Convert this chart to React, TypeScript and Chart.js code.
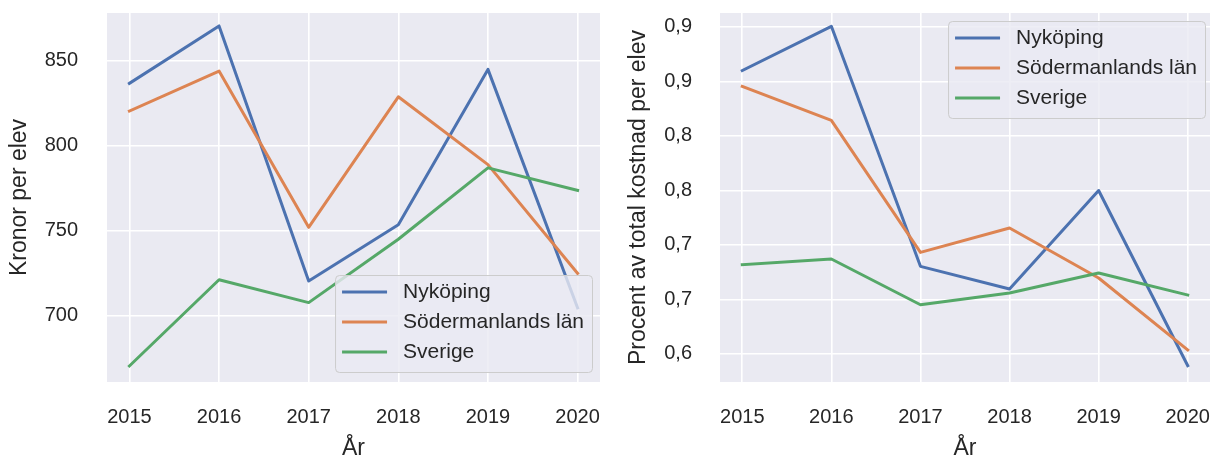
import React, { useEffect, useRef } from "react";
import { Chart, registerables } from "chart.js";

Chart.register(...registerables);

// ---- Data ----
const years = [2015, 2016, 2017, 2018, 2019, 2020];
const yearLabels = ["2015", "2016", "2017", "2018", "2019", "2020"];
const seriesNames = ["Nyköping", "Södermanlands län", "Sverige"];

const kronorNykoping = [836.5, 870.2, 720.5, 753.5, 844.7, 704.7];
const kronorSodermanland = [820.2, 843.7, 752.0, 828.6, 788.8, 725.0];
const kronorSverige = [670.6, 721.2, 707.8, 745.0, 786.9, 773.7];

const procentNykoping = [0.86, 0.9006, 0.6804, 0.6596, 0.75, 0.5893];
const procentSodermanland = [0.8455, 0.8143, 0.6932, 0.7156, 0.6697, 0.6037];
const procentSverige = [0.6819, 0.6871, 0.6452, 0.656, 0.6743, 0.6541];

const kronorTicks = [700, 750, 800, 850];
const kronorTickLabels = ["700", "750", "800", "850"];
const procentTicks = [0.6, 0.65, 0.7, 0.75, 0.8, 0.85, 0.9];
const procentTickLabels = ["0,6", "0,7", "0,7", "0,8", "0,8", "0,9", "0,9"];

const xTitle = "År";
const kronorTitle = "Kronor per elev";
const procentTitle = "Procent av total kostnad per elev";

// ---- Styles ----
const FONT = "'Liberation Sans', Arial, Helvetica, sans-serif";
const TEXT = "#262626";
const COLORS = ["#4C72B0", "#DD8452", "#55A868"];
const BG = "#EAEAF2";

const bgPlugin = {
  id: "axesBg",
  beforeDraw(chart: any) {
    const { ctx, chartArea } = chart;
    ctx.save();
    ctx.fillStyle = BG;
    ctx.fillRect(chartArea.left, chartArea.top, chartArea.right - chartArea.left, chartArea.bottom - chartArea.top);
    ctx.restore();
  },
};

const insideLegendPlugin = {
  id: "insideLegend",
  afterDatasetsDraw(chart: any, _args: any, opts: any) {
    const { ctx, chartArea } = chart;
    const ds = chart.data.datasets;
    ctx.save();
    ctx.font = `21px ${FONT}`;
    let textW = 0;
    ds.forEach((d: any) => {
      textW = Math.max(textW, ctx.measureText(d.label).width);
    });
    const padL = 7, handle = 45, gap = 16, padR = 8;
    const w = padL + handle + gap + textW + padR;
    const h = 97;
    const x = chartArea.right - opts.marginRight - w;
    const y = opts.position === "bottom" ? chartArea.bottom - opts.marginBottom - h : chartArea.top + opts.marginTop;
    ctx.beginPath();
    if (ctx.roundRect) ctx.roundRect(x + 0.5, y + 0.5, w, h, 4);
    else ctx.rect(x + 0.5, y + 0.5, w, h);
    ctx.fillStyle = "rgba(234,234,242,0.8)";
    ctx.fill();
    ctx.strokeStyle = "#cccccc";
    ctx.lineWidth = 1;
    ctx.stroke();
    ds.forEach((d: any, i: number) => {
      const cy = y + 17 + i * 30;
      ctx.beginPath();
      ctx.moveTo(x + padL, cy);
      ctx.lineTo(x + padL + handle, cy);
      ctx.strokeStyle = d.borderColor;
      ctx.lineWidth = 3;
      ctx.lineCap = "butt";
      ctx.stroke();
      ctx.fillStyle = TEXT;
      ctx.textBaseline = "middle";
      ctx.textAlign = "left";
      ctx.fillText(d.label, x + padL + handle + gap, cy);
    });
    ctx.restore();
  },
};

function makeDatasets(values: number[][]) {
  return values.map((vals, i) => ({
    label: seriesNames[i],
    data: years.map((yr, j) => ({ x: yr, y: vals[j] })),
    borderColor: COLORS[i],
    backgroundColor: COLORS[i],
    borderWidth: 3,
    pointRadius: 0,
    pointHoverRadius: 0,
    tension: 0,
    borderJoinStyle: "round" as const,
    borderCapStyle: "square" as const,
    order: 2 - i,
  }));
}

function makeConfig(opts: {
  values: number[][];
  yMin: number;
  yMax: number;
  yTicks: number[];
  yTickLabels: string[];
  yTitle: string;
  yWidth: number;
  yTickPad: number;
  yTitlePad: number;
  padRight: number;
  legend: any;
}) {
  return {
    type: "line" as const,
    data: { datasets: makeDatasets(opts.values) },
    plugins: [bgPlugin, insideLegendPlugin],
    options: {
      animation: false as const,
      responsive: true,
      maintainAspectRatio: false,
      events: [],
      layout: { autoPadding: false, padding: { top: 13, right: opts.padRight, bottom: 0, left: 0 } },
      plugins: {
        legend: { display: false },
        tooltip: { enabled: false },
        insideLegend: opts.legend,
      },
      scales: {
        x: {
          type: "linear" as const,
          min: 2014.75,
          max: 2020.25,
          afterBuildTicks: (s: any) => {
            s.ticks = years.map((v) => ({ value: v }));
          },
          afterFit: (s: any) => {
            s.height = 77;
            s.paddingLeft = 0;
            s.paddingRight = 0;
            s.paddingTop = 0;
            s.paddingBottom = 0;
          },
          grid: { color: "#ffffff", lineWidth: 1.6, drawTicks: false },
          border: { display: false },
          ticks: {
            autoSkip: false,
            maxRotation: 0,
            padding: 23,
            color: TEXT,
            font: { family: FONT, size: 20 },
            callback: (v: any) => yearLabels[years.indexOf(Number(v))] ?? "",
          },
          title: {
            display: true,
            text: xTitle,
            color: TEXT,
            font: { family: FONT, size: 23, lineHeight: 0.9 },
            padding: { top: 0, bottom: 0 },
          },
        },
        y: {
          type: "linear" as const,
          min: opts.yMin,
          max: opts.yMax,
          afterBuildTicks: (s: any) => {
            s.ticks = opts.yTicks.map((v) => ({ value: v }));
          },
          afterFit: (s: any) => {
            s.width = opts.yWidth;
            s.paddingLeft = 0;
            s.paddingRight = 0;
            s.paddingTop = 0;
            s.paddingBottom = 0;
          },
          grid: { color: "#ffffff", lineWidth: 1.6, drawTicks: false },
          border: { display: false },
          ticks: {
            padding: opts.yTickPad,
            color: TEXT,
            font: { family: FONT, size: 20 },
            callback: (v: any) => {
              const idx = opts.yTicks.findIndex((t) => Math.abs(t - Number(v)) < 1e-9);
              return idx >= 0 ? opts.yTickLabels[idx] : "";
            },
          },
          title: {
            display: true,
            text: opts.yTitle,
            color: TEXT,
            font: { family: FONT, size: 23 },
            padding: { top: opts.yTitlePad, bottom: 0 },
          },
        },
      },
    },
  };
}

function ChartBox(props: { config: any; left: number; width: number }) {
  const ref = useRef<HTMLCanvasElement | null>(null);
  useEffect(() => {
    if (!ref.current) return;
    const chart = new Chart(ref.current, props.config);
    return () => chart.destroy();
  }, []);
  return (
    <div style={{ position: "absolute", left: props.left, top: 0, width: props.width, height: 459 }}>
      <canvas ref={ref} />
    </div>
  );
}

export default function App() {
  const leftConfig = makeConfig({
    values: [kronorNykoping, kronorSodermanland, kronorSverige],
    yMin: 661.2,
    yMax: 877.8,
    yTicks: kronorTicks,
    yTickLabels: kronorTickLabels,
    yTitle: kronorTitle,
    yWidth: 107,
    yTickPad: 29,
    yTitlePad: 6,
    padRight: 10,
    legend: { position: "bottom", marginRight: 8, marginBottom: 10, marginTop: 0 },
  });
  const rightConfig = makeConfig({
    values: [procentNykoping, procentSodermanland, procentSverige],
    yMin: 0.5743,
    yMax: 0.9128,
    yTicks: procentTicks,
    yTickLabels: procentTickLabels,
    yTitle: procentTitle,
    yWidth: 110,
    yTickPad: 28,
    yTitlePad: 15,
    padRight: 7,
    legend: { position: "top", marginRight: 5, marginTop: 8, marginBottom: 0 },
  });
  return (
    <div style={{ position: "absolute", left: 0, top: 0, width: 1217, height: 459, background: "#ffffff" }}>
      <ChartBox config={leftConfig} left={0} width={610} />
      <ChartBox config={rightConfig} left={610} width={607} />
    </div>
  );
}
